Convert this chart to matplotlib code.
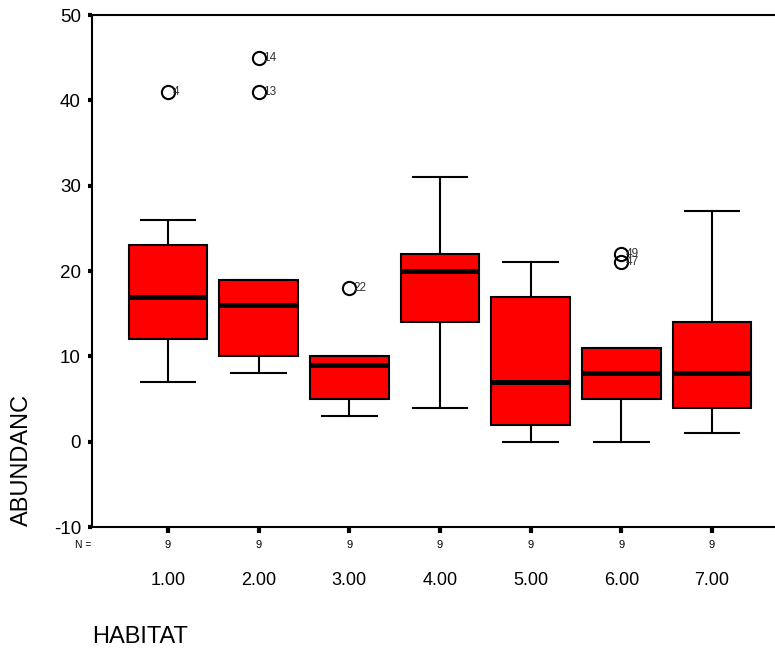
import matplotlib.pyplot as plt
import numpy as np

plt.rcParams['font.family'] = ['Liberation Sans', 'DejaVu Sans']
plt.rcParams['axes.unicode_minus'] = False

habitat = ['1.00', '2.00', '3.00', '4.00', '5.00', '6.00', '7.00']
n_counts = [9, 9, 9, 9, 9, 9, 9]
whislo = [7, 8, 3, 4, 0, 0, 1]
q1 = [12, 10, 5, 14, 2, 5, 4]
med = [17, 16, 9, 20, 7, 8, 8]
q3 = [23, 19, 10, 22, 17, 11, 14]
whishi = [26, 19, 10, 31, 21, 11, 27]
outliers = [[41], [45, 41], [18], [], [], [22, 21], []]
outlier_ids = [['4'], ['14', '13'], ['22'], [], [], ['49', '47'], []]

stats = []
for i in range(len(habitat)):
    stats.append(dict(whislo=whislo[i], q1=q1[i], med=med[i], q3=q3[i],
                      whishi=whishi[i], fliers=outliers[i]))

fig = plt.figure(figsize=(7.75, 6.53), dpi=100)
ax = fig.add_axes([92 / 775, 1 - 527 / 653, 1 - 92 / 775, (527 - 15) / 653])

pos = np.arange(1, len(habitat) + 1)
ax.bxp(stats, positions=pos, widths=0.87, patch_artist=True,
       boxprops=dict(facecolor='#ff0000', edgecolor='black', linewidth=1.5),
       medianprops=dict(color='black', linewidth=3.6, solid_capstyle='butt'),
       whiskerprops=dict(color='black', linewidth=1.5),
       capprops=dict(color='black', linewidth=1.5),
       capwidths=0.6,
       flierprops=dict(marker='o', markerfacecolor='none', markeredgecolor='black',
                       markersize=9.5, markeredgewidth=1.5))

for i in range(len(habitat)):
    for v, lab in zip(outliers[i], outlier_ids[i]):
        ax.text(pos[i] + 0.05, v, lab, fontsize=8.5, va='center', ha='left',
                color='#333333')

ax.set_xlim(0.162, 7.695)
ax.set_ylim(-10, 50)
ax.set_yticks([-10, 0, 10, 20, 30, 40, 50])
ax.set_xticks(pos)
ax.set_xticklabels([])
ax.spines['right'].set_visible(False)
for s in ['left', 'top', 'bottom']:
    ax.spines[s].set_linewidth(1.5)
ax.tick_params(axis='y', direction='out', length=3, width=3, labelsize=13.5, pad=5)
ax.tick_params(axis='x', direction='out', length=4, width=3, pad=0)

trans = ax.get_xaxis_transform()
fig.text(75 / 775, 1 - 545 / 653, 'N =', fontsize=7.5, ha='left', va='center')
for i in range(len(habitat)):
    ax.text(pos[i], -0.035, str(n_counts[i]), transform=trans, fontsize=8,
            ha='center', va='center')
    ax.text(pos[i], -0.105, habitat[i], transform=trans, fontsize=13,
            ha='center', va='center')

fig.text(22 / 775, 1 - 460 / 653, 'ABUNDANC', rotation=90, fontsize=17,
         ha='center', va='center')
fig.text(92 / 775, 1 - 637 / 653, 'HABITAT', fontsize=17, ha='left', va='center')

fig.savefig('out.png', dpi=100)
